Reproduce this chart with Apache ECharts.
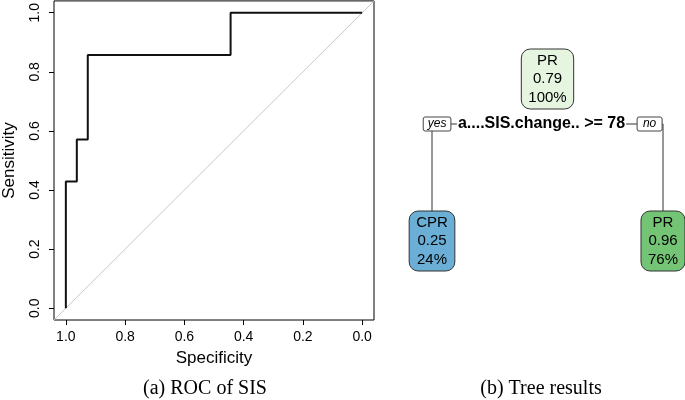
<!doctype html>
<html>
<head>
<meta charset="utf-8">
<title>ROC of SIS and tree results</title>
<style>
html, body { margin: 0; padding: 0; background: #fff; }
#main { width: 685px; height: 400px; }
</style>
</head>
<body>
<div id="main"></div>
<script src="https://cdn.jsdelivr.net/npm/echarts@6/dist/echarts.min.js"></script>
<script>
// ROC corner points (7 CPR cases, 27 PR controls)
var specificity = [1.000, 1.000, 0.963, 0.963, 0.926, 0.926, 0.444, 0.444, 0.000];
var sensitivity = [0.000, 0.429, 0.429, 0.571, 0.571, 0.857, 0.857, 1.000, 1.000];
var rocTicks = [0, 0.2, 0.4, 0.6, 0.8, 1.0];
var rocMin = -0.04, rocMax = 1.04;

// rpart tree: root split + two leaves
var nodeParent = [-1, 0, 0];
var nodeClass = ['PR', 'CPR', 'PR'];
var nodeProb = [0.79, 0.25, 0.96];
var nodePercent = [100, 24, 76];
var splitVar = 'a....SIS.change..';
var splitOp = '>=';
var splitValue = 78;
var branchLabels = ['yes', 'no'];

var captions = ['(a) ROC of SIS', '(b) Tree results'];

var SANS = '"Liberation Sans", Arial, sans-serif';

// tree layout from structure: leaves in order, parents centred over children
var childrenOf = nodeParent.map(function () { return []; });
nodeParent.forEach(function (p, i) { if (p >= 0) childrenOf[p].push(i); });
var nodeDepth = nodeParent.map(function (p, i) {
    var d = 0, j = i;
    while (nodeParent[j] >= 0) { j = nodeParent[j]; d++; }
    return d;
});
var nodeX = [];
var leafCount = 0;
nodeParent.forEach(function (p, i) {
    if (!childrenOf[i].length) nodeX[i] = leafCount++;
});
for (var i = nodeParent.length - 1; i >= 0; i--) {
    if (childrenOf[i].length) {
        var s = 0;
        childrenOf[i].forEach(function (k) { s += nodeX[k]; });
        nodeX[i] = s / childrenOf[i].length;
    }
}
var treeData = nodeParent.map(function (p, i) { return [nodeX[i], nodeDepth[i], i]; });

function boxColor(p) {
    if (p < 0.5) return '#6BAED6';
    if (p < 0.9) return '#E5F5E0';
    return '#74C476';
}

var measureCtx = document.createElement('canvas').getContext('2d');
function textWidth(s, font) {
    measureCtx.font = font;
    return measureCtx.measureText(s).width;
}

var nodeFont = '15px ' + SANS;
var splitFont = 'bold 16px ' + SANS;
var branchFont = 'italic 12px ' + SANS;
var halfH = 30;

function renderNode(params, api) {
    var i = api.value(2);
    var c = api.coord([api.value(0), api.value(1)]);
    var els = [];
    var kids = childrenOf[i];
    if (kids.length) {
        var l = api.coord([nodeX[kids[0]], nodeDepth[kids[0]]]);
        var r = api.coord([nodeX[kids[1]], nodeDepth[kids[1]]]);
        var sy = c[1] + 45;
        els.push({
            type: 'polyline',
            shape: { points: [[l[0], l[1] - halfH], [l[0], sy], [r[0], sy], [r[0], r[1] - halfH]] },
            style: { stroke: '#333', fill: null, lineWidth: 1 }
        });
        var label = splitVar + ' ' + splitOp + ' ' + splitValue;
        var lw = textWidth(label, splitFont);
        var cx = c[0] - 6;
        var lx = cx - lw / 2;
        els.push({
            type: 'rect',
            shape: { x: lx - 1, y: sy - 8, width: lw + 2, height: 16 },
            style: { fill: '#fff' }
        });
        els.push({
            type: 'text',
            style: { text: label, x: cx, y: sy, font: splitFont, fill: '#000', align: 'center', verticalAlign: 'middle' }
        });
        branchLabels.forEach(function (b, k) {
            var bw = Math.max(textWidth(b, branchFont) + 9, 25);
            var bx = k === 0 ? lx - 7 - bw : lx + lw + 12;
            els.push({
                type: 'rect',
                shape: { x: bx, y: sy - 7, width: bw, height: 14, r: 2 },
                style: { fill: '#fff', stroke: '#444', lineWidth: 1 }
            });
            els.push({
                type: 'text',
                style: { text: b, x: bx + bw / 2, y: sy, font: branchFont, fill: '#000', align: 'center', verticalAlign: 'middle' }
            });
        });
    }
    var lines = [nodeClass[i], nodeProb[i].toFixed(2), nodePercent[i] + '%'];
    var w = 0;
    lines.forEach(function (t) { w = Math.max(w, textWidth(t, nodeFont)); });
    w += 14;
    els.push({
        type: 'rect',
        shape: { x: c[0] - w / 2, y: c[1] - halfH, width: w, height: halfH * 2, r: 9 },
        style: { fill: boxColor(nodeProb[i]), stroke: '#333', lineWidth: 1 }
    });
    lines.forEach(function (t, k) {
        els.push({
            type: 'text',
            style: { text: t, x: c[0], y: c[1] + (k - 1) * 18.5, font: nodeFont, fill: '#000', align: 'center', verticalAlign: 'middle' }
        });
    });
    return { type: 'group', children: els };
}

var chart = echarts.init(document.getElementById('main'), null, { renderer: 'canvas' });

chart.setOption({
    animation: false,
    textStyle: { fontFamily: SANS },
    grid: [
        { left: 54, top: 0, width: 320, height: 320, show: true, borderColor: '#000', borderWidth: 1 },
        { left: 432, top: 79, width: 231, height: 162 }
    ],
    xAxis: [{
        gridIndex: 0,
        type: 'value',
        min: rocMin,
        max: rocMax,
        inverse: true,
        name: 'Specificity',
        nameLocation: 'middle',
        nameGap: 30,
        nameTextStyle: { fontSize: 17, color: '#000', fontFamily: SANS },
        axisLine: { show: false, onZero: false },
        splitLine: { show: false },
        axisTick: { show: true, customValues: rocTicks, length: 5, lineStyle: { color: '#000' } },
        axisLabel: {
            customValues: rocTicks, fontSize: 14, color: '#000', margin: 10,
            formatter: function (v) { return v.toFixed(1); }
        }
    }, {
        gridIndex: 1, type: 'value', min: 0, max: leafCount - 1, show: false
    }],
    yAxis: [{
        gridIndex: 0,
        type: 'value',
        min: rocMin,
        max: rocMax,
        name: 'Sensitivity',
        nameLocation: 'middle',
        nameGap: 36,
        nameTextStyle: { fontSize: 17, color: '#000', fontFamily: SANS },
        axisLine: { show: false, onZero: false },
        splitLine: { show: false },
        axisTick: { show: true, customValues: rocTicks, length: 5, lineStyle: { color: '#000' } },
        axisLabel: {
            customValues: rocTicks, fontSize: 14, color: '#000', margin: 12, rotate: 90,
            formatter: function (v) { return v.toFixed(1); }
        }
    }, {
        gridIndex: 1, type: 'value', min: 0, max: Math.max.apply(null, nodeDepth), inverse: true, show: false
    }],
    series: [{
        type: 'line',
        xAxisIndex: 0, yAxisIndex: 0,
        data: [[rocMax, 1 - rocMax], [rocMin, 1 - rocMin]],
        showSymbol: false,
        silent: true,
        lineStyle: { color: '#c8c8c8', width: 1 }
    }, {
        type: 'line',
        xAxisIndex: 0, yAxisIndex: 0,
        data: specificity.map(function (s, k) { return [s, sensitivity[k]]; }),
        showSymbol: false,
        lineStyle: { color: '#111', width: 2 }
    }, {
        type: 'custom',
        xAxisIndex: 1, yAxisIndex: 1,
        data: treeData,
        renderItem: renderNode,
        clip: false
    }],
    graphic: captions.map(function (t, k) {
        return {
            type: 'text',
            x: k === 0 ? 205 : 541,
            y: 389,
            style: {
                text: t, font: '20px "Liberation Serif", "Times New Roman", serif',
                fill: '#000', align: 'center', verticalAlign: 'middle'
            }
        };
    })
});

window.onresize = chart.resize;
</script>
</body>
</html>
